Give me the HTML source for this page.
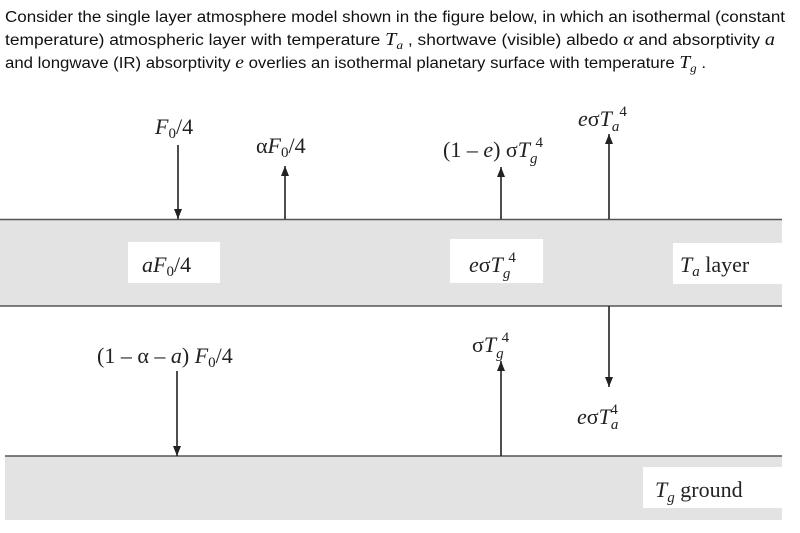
<!DOCTYPE html>
<html><head><meta charset="utf-8"><style>
html,body{margin:0;padding:0;background:#fff;}
svg{display:block;}
.h{font-family:"Liberation Sans",sans-serif;font-size:15.5px;fill:#111;}
.m{font-family:"Liberation Serif",serif;font-size:22px;fill:#222;}
.i{font-style:italic;}
</style></head><body>
<svg width="800" height="533" viewBox="0 0 800 533">
<defs><marker id="ah" markerWidth="10" markerHeight="8" refX="10" refY="4" orient="auto" markerUnits="userSpaceOnUse" viewBox="0 0 10 8"><path d="M0,0 L10,4 L0,8 Z" fill="#222"/></marker></defs>
<text class="h" x="5" y="22" textLength="780" lengthAdjust="spacingAndGlyphs">Consider the single layer atmosphere model shown in the figure below, in which an isothermal (constant</text>
<text class="h" x="5" y="45" textLength="770" lengthAdjust="spacingAndGlyphs">temperature) atmospheric layer with temperature <tspan font-family="Liberation Serif" font-style="italic" font-size="18">T</tspan><tspan font-family="Liberation Serif" font-style="italic" font-size="12" dy="4">a</tspan><tspan dy="-4"> , shortwave (visible) albedo </tspan><tspan font-family="Liberation Serif" font-style="italic" font-size="18">α</tspan> and absorptivity <tspan font-family="Liberation Serif" font-style="italic" font-size="18">a</tspan></text>
<text class="h" x="5" y="68" textLength="701" lengthAdjust="spacingAndGlyphs">and longwave (IR) absorptivity <tspan font-family="Liberation Serif" font-style="italic" font-size="18">e</tspan> overlies an isothermal planetary surface with temperature <tspan font-family="Liberation Serif" font-style="italic" font-size="18">T</tspan><tspan font-family="Liberation Serif" font-style="italic" font-size="12" dy="4">g</tspan><tspan dy="-4"> .</tspan></text>

<rect x="0" y="219" width="782" height="87" fill="#e3e3e3"/>
<line x1="0" y1="219.5" x2="782" y2="219.5" stroke="#555" stroke-width="1.5"/>
<line x1="0" y1="306" x2="782" y2="306" stroke="#555" stroke-width="1.5"/>
<rect x="5" y="456" width="777" height="64" fill="#e3e3e3"/>
<line x1="5" y1="456" x2="782" y2="456" stroke="#555" stroke-width="1.5"/>

<rect x="128" y="242" width="92" height="41" fill="#fff"/>
<rect x="450" y="239" width="93" height="44" fill="#fff"/>
<rect x="673" y="243" width="109" height="41" fill="#fff"/>
<rect x="643" y="467" width="139" height="41" fill="#fff"/>

<g stroke="#222" stroke-width="1.6" fill="none">
<line x1="178" y1="145" x2="178" y2="219" marker-end="url(#ah)"/>
<line x1="285" y1="219" x2="285" y2="166" marker-end="url(#ah)"/>
<line x1="501" y1="219" x2="501" y2="167" marker-end="url(#ah)"/>
<line x1="609" y1="219" x2="609" y2="134" marker-end="url(#ah)"/>
<line x1="177" y1="371" x2="177" y2="456" marker-end="url(#ah)"/>
<line x1="501" y1="456" x2="501" y2="361" marker-end="url(#ah)"/>
<line x1="609" y1="306" x2="609" y2="387" marker-end="url(#ah)"/>
</g>

<text class="m" x="155" y="134"><tspan class="i">F</tspan><tspan font-size="15" dy="4">0</tspan><tspan dy="-4">/4</tspan></text>
<text class="m" x="256" y="153">α<tspan class="i">F</tspan><tspan font-size="15" dy="4">0</tspan><tspan dy="-4">/4</tspan></text>
<text class="m" x="443" y="157">(1 – <tspan class="i">e</tspan>) σ<tspan class="i">T</tspan><tspan class="i" font-size="15" dy="6">g</tspan><tspan font-size="15" dx="-2" dy="-16">4</tspan></text>
<text class="m" x="578" y="126"><tspan class="i">e</tspan>σ<tspan class="i">T</tspan><tspan class="i" font-size="15" dy="5">a</tspan><tspan font-size="15" dy="-15">4</tspan></text>
<text class="m" x="142" y="272"><tspan class="i">aF</tspan><tspan font-size="15" dy="4">0</tspan><tspan dy="-4">/4</tspan></text>
<text class="m" x="469" y="272"><tspan class="i">e</tspan>σ<tspan class="i">T</tspan><tspan class="i" font-size="15" dy="6">g</tspan><tspan font-size="15" dx="-2" dy="-16">4</tspan></text>
<text class="m" x="680" y="272"><tspan class="i">T</tspan><tspan class="i" font-size="15" dy="4">a</tspan><tspan dy="-4"> layer</tspan></text>
<text class="m" x="97" y="363">(1 – α – <tspan class="i">a</tspan>) <tspan class="i">F</tspan><tspan font-size="15" dy="4">0</tspan><tspan dy="-4">/4</tspan></text>
<text class="m" x="472" y="352">σ<tspan class="i">T</tspan><tspan class="i" font-size="15" dy="6">g</tspan><tspan font-size="15" dx="-2" dy="-16">4</tspan></text>
<text class="m" x="577" y="424"><tspan class="i">e</tspan>σ<tspan class="i">T</tspan><tspan class="i" font-size="15" dy="5">a</tspan><tspan font-size="15" dx="-8" dy="-15">4</tspan></text>
<text class="m" x="655" y="497"><tspan class="i">T</tspan><tspan class="i" font-size="15" dy="5">g</tspan><tspan dy="-5"> ground</tspan></text>
</svg>
</body></html>
